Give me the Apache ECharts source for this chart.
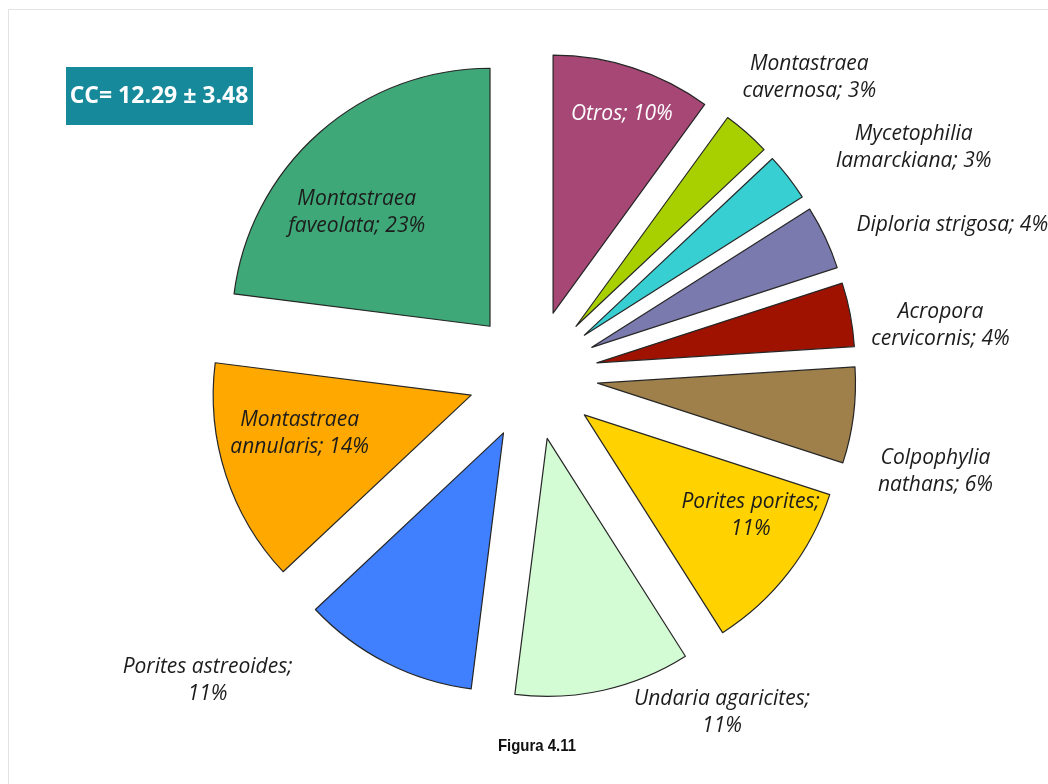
<!DOCTYPE html>
<html>
<head>
<meta charset="utf-8">
<script src="https://cdn.jsdelivr.net/npm/echarts@6/dist/echarts.min.js"></script>
<style>
  html, body { margin: 0; padding: 0; background: #ffffff; }
  #chart { width: 1048px; height: 784px; }
</style>
</head>
<body>
<div id="chart"></div>
<script>
// Coral species composition (percent of live coral cover)
const species = [
  'Otros',
  'Montastraea cavernosa',
  'Mycetophilia lamarckiana',
  'Diploria strigosa',
  'Acropora cervicornis',
  'Colpophylia nathans',
  'Porites porites',
  'Undaria agaricites',
  'Porites astreoides',
  'Montastraea annularis',
  'Montastraea faveolata'
];
const percents = [10, 3, 3, 4, 4, 6, 11, 11, 11, 14, 23];
const sliceColors = [
  '#a64776', '#a8d000', '#38cfd3', '#7a7aae', '#a01200', '#a0804a',
  '#ffd200', '#d4fcd4', '#4080ff', '#ffa800', '#3fa878'
];
const coverNote = 'CC= 12.29 ± 3.48';
const figureCaption = 'Figura 4.11';

// label line-break style
const singleLine = ['Otros', 'Diploria strigosa'];
const breakBeforeValue = ['Porites porites', 'Undaria agaricites', 'Porites astreoides'];

function labelText(name, value) {
  if (singleLine.indexOf(name) >= 0) return name + '; ' + value + '%';
  if (breakBeforeValue.indexOf(name) >= 0) return name + ';\n' + value + '%';
  const i = name.indexOf(' ');
  return name.slice(0, i) + '\n' + name.slice(i + 1) + '; ' + value + '%';
}

// label shifts from the default in-slice position (px)
const labelShift = [
  [28, -74], [146, -150], [225, -107], [241, -66], [214, -13], [207, 72],
  [62, 20], [146, 145], [-236, 130], [-46, -2], [-46, -15]
];

const chart = echarts.init(document.getElementById('chart'), null, { renderer: 'canvas' });

chart.setOption({
  animation: false,
  backgroundColor: '#ffffff',
  graphic: [
    {
      type: 'rect',
      shape: { x: 8.5, y: 9.5, width: 1100, height: 800 },
      style: { fill: 'none', stroke: '#e3e3e3', lineWidth: 1 },
      silent: true
    },
    {
      type: 'rect',
      shape: { x: 66, y: 67, width: 187, height: 58 },
      style: { fill: '#16899b' },
      silent: true
    },
    {
      type: 'text',
      x: 159, y: 96,
      style: {
        text: coverNote,
        fill: '#ffffff',
        font: 'bold 23px "Open Sans"',
        textAlign: 'center',
        textVerticalAlign: 'middle'
      },
      silent: true
    },
    {
      type: 'text',
      x: 537, y: 746,
      scaleX: 0.88,
      style: {
        text: figureCaption,
        fill: '#111111',
        font: 'bold 17px "Liberation Sans"',
        textAlign: 'center',
        textVerticalAlign: 'middle'
      },
      silent: true
    }
  ],
  series: [{
    type: 'pie',
    center: [533, 375],
    radius: 258,
    startAngle: 90,
    clockwise: true,
    selectedMode: 'multiple',
    selectedOffset: 65,
    avoidLabelOverlap: false,
    itemStyle: { borderColor: '#262626', borderWidth: 1.2 },
    select: { itemStyle: { borderColor: '#262626', borderWidth: 1.2 } },
    emphasis: { disabled: true },
    label: {
      show: true,
      position: 'inside',
      fontFamily: 'Open Sans',
      fontStyle: 'italic',
      fontSize: 21,
      lineHeight: 27,
      color: '#1c1c1c',
      align: 'center',
      formatter: p => labelText(p.name, p.value)
    },
    labelLine: { show: false },
    labelLayout: p => ({
      dx: labelShift[p.dataIndex][0],
      dy: labelShift[p.dataIndex][1],
      align: 'center',
      verticalAlign: 'middle'
    }),
    data: species.map((name, i) => ({
      name: name,
      value: percents[i],
      selected: true,
      itemStyle: { color: sliceColors[i] },
      label: i === 0 ? { color: '#ffffff' } : undefined
    }))
  }]
});
</script>
</body>
</html>
